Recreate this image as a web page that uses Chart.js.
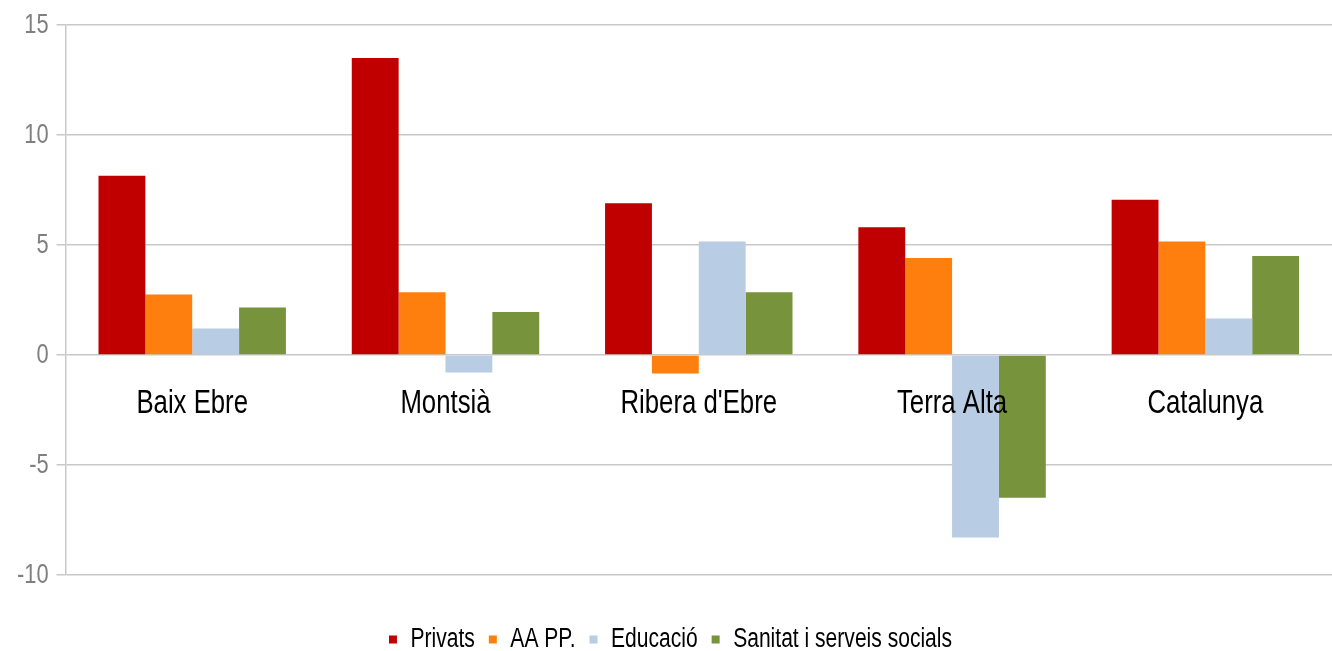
<!DOCTYPE html>
<html>
<head>
<meta charset="utf-8">
<script src="https://cdn.jsdelivr.net/npm/chart.js@4/dist/chart.umd.min.js"></script>
<style>
  html, body { margin: 0; padding: 0; background: #fff; }
  #wrap { width: 1332px; height: 651px; }
</style>
</head>
<body>
<div id="wrap"><canvas id="chart"></canvas></div>
<script>
// comarques + Catalunya
const categories = ["Baix Ebre", "Montsià", "Ribera d'Ebre", "Terra Alta", "Catalunya"];
const privats = [8.15, 13.5, 6.9, 5.8, 7.05];
const aapp = [2.75, 2.85, -0.85, 4.4, 5.15];
const educacio = [1.2, -0.8, 5.15, -8.3, 1.65];
const sanitat = [2.15, 1.95, 2.85, -6.5, 4.5];
const yTicks = [-10, -5, 0, 5, 10, 15];

const fontFam = "'Liberation Sans', Arial, sans-serif";

const ctx = document.getElementById("chart").getContext("2d");

// the original uses a narrow font; squeeze text horizontally to get the same look
const squeeze = 0.78;
const rawFill = ctx.fillText.bind(ctx);
const rawMeasure = ctx.measureText.bind(ctx);
ctx.fillText = (t, x, y) => {
  ctx.save();
  ctx.translate(x, y);
  ctx.scale(squeeze, 1);
  rawFill(t, 0, 0);
  ctx.restore();
};
ctx.measureText = (t) => {
  const m = rawMeasure(t);
  return {
    width: m.width * squeeze,
    actualBoundingBoxAscent: m.actualBoundingBoxAscent,
    actualBoundingBoxDescent: m.actualBoundingBoxDescent,
  };
};

new Chart(ctx, {
  type: "bar",
  data: {
    labels: categories,
    datasets: [
      { label: "Privats", data: privats, backgroundColor: "#c00000" },
      { label: "AA PP.", data: aapp, backgroundColor: "#ff7f0e" },
      { label: "Educació", data: educacio, backgroundColor: "#b8cce4" },
      { label: "Sanitat i serveis socials", data: sanitat, backgroundColor: "#77933c" },
    ],
  },
  options: {
    responsive: true,
    maintainAspectRatio: false,
    animation: false,
    layout: { padding: { top: 25, right: 0, left: 9, bottom: -12 } },
    datasets: { bar: { categoryPercentage: 0.74, barPercentage: 1.0 } },
    scales: {
      x: {
        position: { y: 0 },
        grid: { display: false, drawTicks: false },
        border: { display: false },
        ticks: {
          z: 1,
          color: "#000",
          font: { family: fontFam, size: 33 },
          padding: 29,
          maxRotation: 0,
        },
      },
      y: {
        min: -10,
        max: 15,
        afterBuildTicks: (axis) => {
          axis.ticks = yTicks.map((v) => ({ value: v }));
        },
        grid: { color: "#c8c8c8", lineWidth: 1.5, tickLength: 9 },
        border: { display: true, color: "#c8c8c8", width: 1.5 },
        ticks: {
          color: "#7f7f7f",
          font: { family: fontFam, size: 28 },
          padding: 8,
        },
      },
    },
    plugins: {
      legend: {
        position: "bottom",
        title: { display: true, text: " ", font: { size: 1 }, padding: { top: 18, bottom: 18 } },
        labels: {
          color: "#000",
          font: { family: fontFam, size: 27 },
          boxWidth: 8,
          boxHeight: 8,
          padding: 14,
        },
      },
      tooltip: { enabled: false },
    },
  },
});
</script>
</body>
</html>
